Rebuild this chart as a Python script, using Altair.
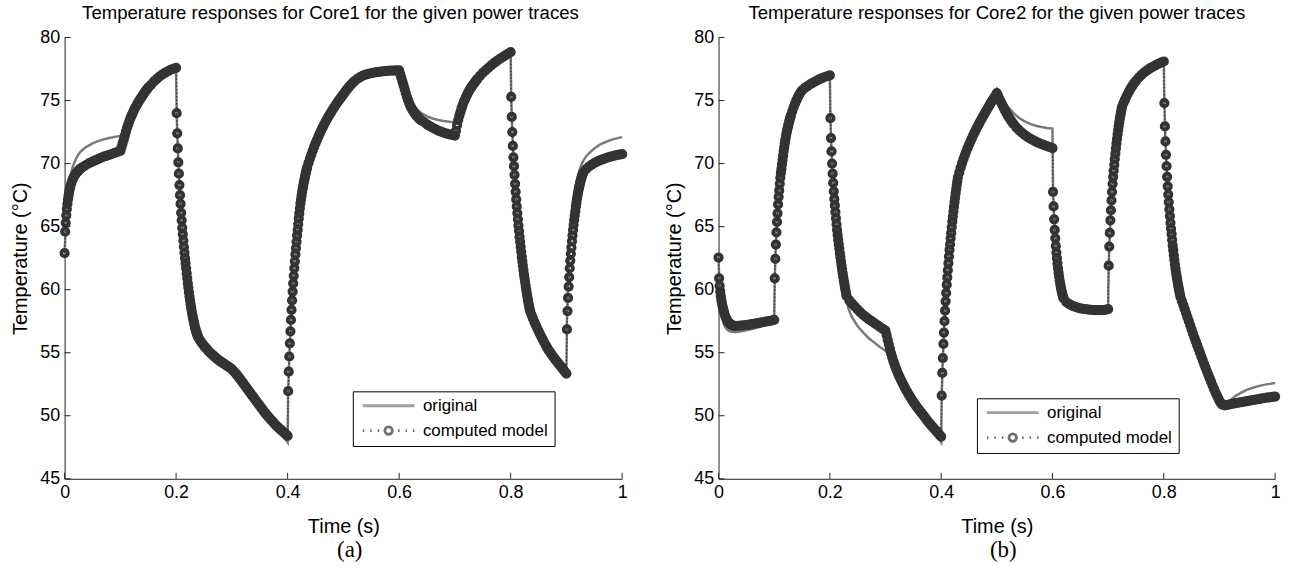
import altair as alt
import pandas as pd

XTICKS = [0, 0.2, 0.4, 0.6, 0.8, 1]
YTICKS = [45, 50, 55, 60, 65, 70, 75, 80]
SERIES = ["original", "computed model"]
COLORS = ["#7a7a7a", "#333333"]

# computed model, Core1: (start time, sample step, read temperatures)
CORE1_COMPUTED = [
    (0.000, 0.001, [62.9, 64.6, 65.3, 65.9, 66.4, 66.8, 67.15, 67.45, 67.7, 67.95, 68.15]),
    (0.012, 0.002, [68.45, 68.7, 68.9, 69.05, 69.2, 69.3, 69.4, 69.5, 69.58, 69.65]),
    (0.035, 0.005, [69.8, 69.93, 70.05, 70.15, 70.25, 70.35, 70.45, 70.55, 70.62, 70.7, 70.78, 70.85, 70.92, 71.0]),
    (0.102, 0.002, [71.3, 71.6, 71.9, 72.2, 72.55, 72.85, 73.1, 73.35, 73.6, 73.8, 74.0, 74.2, 74.4, 74.55, 74.7,
                    74.85, 75.0, 75.14, 75.28, 75.42, 75.55, 75.68, 75.8, 75.91, 76.02]),
    (0.155, 0.005, [76.25, 76.5, 76.7, 76.9, 77.05, 77.2, 77.32, 77.43, 77.52, 77.6]),
    (0.201, 0.001, [74.0, 72.4, 71.2, 70.1, 69.2, 68.3, 67.5, 66.8, 66.1, 65.5, 64.9, 64.4, 63.9, 63.4, 62.95,
                    62.5, 62.1, 61.7, 61.3, 60.9, 60.5, 60.15, 59.8, 59.45, 59.15, 58.85, 58.55, 58.3, 58.05, 57.8,
                    57.6, 57.4, 57.2, 57.0, 56.85, 56.7, 56.56, 56.43, 56.31, 56.2]),
    (0.2425, 0.0025, [56.02, 55.85, 55.7, 55.55, 55.42, 55.3, 55.17, 55.05, 54.95, 54.85, 54.75, 54.65, 54.55,
                      54.45, 54.37, 54.3, 54.22, 54.15, 54.07, 54.0, 53.92, 53.85, 53.77, 53.7]),
    (0.3025, 0.0025, [53.58, 53.45, 53.33, 53.2, 53.05, 52.9, 52.75, 52.6, 52.45, 52.3, 52.15, 52.0, 51.85, 51.7,
                      51.55, 51.4, 51.25, 51.1, 50.95, 50.8, 50.65, 50.5, 50.35, 50.2, 50.07, 49.95, 49.82, 49.7,
                      49.57, 49.45, 49.32, 49.2, 49.1, 49.0, 48.9, 48.8, 48.7, 48.6, 48.5, 48.4]),
    (0.401, 0.001, [51.95, 53.5, 54.7, 55.75, 56.7, 57.6, 58.4, 59.15, 59.85, 60.5, 61.1, 61.7, 62.25, 62.8, 63.3,
                    63.8, 64.3, 64.75, 65.2, 65.65, 66.05, 66.45, 66.85, 67.15, 67.45, 67.75, 68.0, 68.25, 68.5,
                    68.72, 68.93, 69.13, 69.33, 69.52, 69.7]),
    (0.4375, 0.0025, [70.05, 70.4, 70.72, 71.03, 71.32, 71.6, 71.87, 72.13, 72.38, 72.62, 72.85, 73.07, 73.28, 73.48,
                      73.68, 73.87, 74.05, 74.23, 74.4, 74.57, 74.74, 74.9, 75.05, 75.2, 75.35, 75.5, 75.65, 75.8,
                      75.94, 76.08, 76.2, 76.33, 76.44, 76.55]),
    (0.525, 0.005, [76.72, 76.86, 76.97, 77.05, 77.12, 77.17, 77.21, 77.25, 77.28, 77.31, 77.33, 77.35, 77.37,
                    77.38, 77.39, 77.4]),
    (0.602, 0.002, [77.1, 76.8, 76.5, 76.2, 75.9, 75.6, 75.3, 75.05, 74.8, 74.6, 74.42, 74.26, 74.12, 73.99, 73.87,
                    73.76, 73.66, 73.57, 73.49, 73.42]),
    (0.645, 0.005, [73.28, 73.12, 72.98, 72.85, 72.73, 72.62, 72.53, 72.45, 72.38, 72.32, 72.27, 72.22]),
    (0.702, 0.002, [72.6, 73.05, 73.45, 73.8, 74.1, 74.4, 74.65, 74.9, 75.1, 75.3, 75.48, 75.65, 75.82, 75.97, 76.1,
                    76.23, 76.35, 76.47, 76.59, 76.7]),
    (0.745, 0.005, [76.95, 77.2, 77.4, 77.6, 77.8, 77.97, 78.13, 78.28, 78.42, 78.56, 78.7, 78.85]),
    (0.801, 0.001, [75.3, 73.7, 72.5, 71.4, 70.5, 69.8, 69.1, 68.4, 67.76, 67.16, 66.6, 66.08, 65.58, 65.1, 64.66,
                    64.2, 63.8, 63.4, 63.0, 62.6, 62.25, 61.9, 61.55, 61.2, 60.9, 60.6, 60.3, 60.0, 59.72, 59.45,
                    59.2, 58.95, 58.72, 58.5, 58.3]),
    (0.8375, 0.0025, [58.0, 57.72, 57.45, 57.2, 56.96, 56.73, 56.5, 56.28, 56.06, 55.85, 55.65, 55.45, 55.25,
                      55.08, 54.92, 54.77, 54.62, 54.47, 54.33, 54.19, 54.05, 53.91, 53.77, 53.63, 53.49, 53.35]),
    (0.901, 0.001, [56.85, 58.3, 59.35, 60.25, 61.0, 61.7, 62.3, 62.85, 63.35, 63.85, 64.3, 64.75, 65.15, 65.55,
                    65.9, 66.25, 66.6, 66.9, 67.2, 67.45, 67.7, 67.95, 68.15, 68.35, 68.55, 68.72, 68.88, 69.02,
                    69.15, 69.27]),
    (0.935, 0.005, [69.55, 69.75, 69.9, 70.03, 70.15, 70.25, 70.34, 70.42, 70.5, 70.56, 70.62, 70.67, 70.71, 70.75]),
]

CORE1_ORIG_T = [0, 0.005, 0.01, 0.015, 0.02, 0.025, 0.03, 0.035, 0.04, 0.05, 0.06, 0.07, 0.08, 0.09, 0.1,
                0.105, 0.11, 0.12, 0.13, 0.14, 0.15, 0.16, 0.17, 0.18, 0.19, 0.2,
                0.201, 0.203, 0.205, 0.207, 0.21, 0.213, 0.216, 0.22, 0.225, 0.23, 0.235, 0.24, 0.25, 0.26, 0.27,
                0.28, 0.29, 0.3,
                0.31, 0.32, 0.33, 0.34, 0.35, 0.36, 0.37, 0.38, 0.39, 0.4,
                0.401, 0.403, 0.405, 0.407, 0.41, 0.413, 0.416, 0.42, 0.425, 0.43, 0.435, 0.44, 0.45, 0.46, 0.47,
                0.48, 0.49, 0.5, 0.51, 0.52, 0.53, 0.54, 0.55, 0.56, 0.57, 0.58, 0.59, 0.6,
                0.602, 0.606, 0.61, 0.615, 0.62, 0.625, 0.63, 0.64, 0.65, 0.66, 0.67, 0.68, 0.69, 0.7,
                0.705, 0.71, 0.715, 0.72, 0.73, 0.74, 0.75, 0.76, 0.77, 0.78, 0.79, 0.8,
                0.801, 0.803, 0.805, 0.807, 0.81, 0.813, 0.816, 0.82, 0.825, 0.83, 0.835, 0.84, 0.85, 0.86, 0.87,
                0.88, 0.89, 0.9,
                0.901, 0.903, 0.905, 0.907, 0.91, 0.913, 0.916, 0.92, 0.925, 0.93, 0.935, 0.94, 0.95, 0.96, 0.97,
                0.98, 0.99, 1.0]
CORE1_ORIG_V = [62.9, 67.6, 69.0, 69.8, 70.35, 70.75, 71.0, 71.2, 71.35, 71.6, 71.78, 71.92, 72.03, 72.12, 72.2,
                72.6, 73.0, 73.85, 74.7, 75.45, 76.0, 76.5, 76.9, 77.2, 77.43, 77.6,
                74.0, 71.2, 69.2, 67.5, 65.5, 63.9, 62.5, 60.9, 59.15, 57.8, 56.85, 56.2, 55.55, 55.05, 54.65,
                54.3, 54.0, 53.7,
                53.15, 52.55, 51.95, 51.35, 50.75, 50.15, 49.6, 49.05, 48.5, 47.9,
                51.9, 54.7, 56.7, 58.4, 60.5, 62.25, 63.8, 65.65, 67.45, 68.72, 69.7, 70.4, 71.6, 72.62, 73.48,
                74.23, 74.9, 75.5, 76.08, 76.55, 76.86, 77.05, 77.17, 77.25, 77.31, 77.35, 77.38, 77.4,
                77.1, 76.5, 75.95, 75.35, 74.95, 74.62, 74.38, 74.0, 73.75, 73.58, 73.46, 73.38, 73.32, 73.28,
                73.9, 74.4, 74.85, 75.3, 76.1, 76.7, 77.2, 77.6, 77.97, 78.28, 78.56, 78.85,
                75.3, 72.5, 70.5, 69.1, 67.16, 65.58, 64.2, 62.6, 60.9, 59.45, 58.3, 57.45, 56.5, 55.65, 54.9,
                54.3, 53.9, 53.6,
                57.5, 60.5, 62.5, 64.0, 65.7, 67.0, 68.1, 68.9, 69.7, 70.2, 70.55, 70.8, 71.2, 71.5, 71.7,
                71.88, 72.0, 72.1]

# computed model, Core2
CORE2_COMPUTED = [
    (0.000, 0.001, [62.55, 60.9, 60.3, 59.85, 59.5, 59.2, 58.95, 58.72, 58.52, 58.35, 58.2]),
    (0.012, 0.002, [57.92, 57.7, 57.52, 57.4, 57.3, 57.23, 57.18, 57.15, 57.13, 57.12]),
    (0.035, 0.005, [57.13, 57.15, 57.17, 57.2, 57.23, 57.27, 57.31, 57.35, 57.39, 57.43, 57.47, 57.51, 57.55, 57.6]),
    (0.101, 0.001, [60.9, 62.45, 63.58, 64.55, 65.37, 66.05, 66.76, 67.37, 67.87, 68.4, 68.87, 69.26, 69.6, 69.95,
                    70.3, 70.65, 71.0, 71.3, 71.6, 71.9, 72.15, 72.4, 72.6, 72.8, 73.0, 73.18, 73.35, 73.52,
                    73.68, 73.83]),
    (0.1325, 0.0025, [74.17, 74.48, 74.77, 75.03, 75.27, 75.48, 75.67]),
    (0.150, 0.005, [75.8, 76.0, 76.15, 76.3, 76.43, 76.55, 76.66, 76.76, 76.85, 76.93, 77.0]),
    (0.201, 0.001, [73.6, 72.03, 70.97, 70.0, 69.2, 68.47, 67.8, 67.2, 66.68, 66.16, 65.66, 65.18, 64.74, 64.34,
                    63.95, 63.6, 63.25, 62.9, 62.58, 62.25, 61.93, 61.62, 61.32, 61.03, 60.75, 60.48, 60.22,
                    59.97, 59.73, 59.5]),
    (0.235, 0.005, [59.15, 58.9, 58.65, 58.42, 58.2, 58.0, 57.82, 57.65, 57.5, 57.35, 57.2, 57.05, 56.9, 56.75]),
    (0.302, 0.002, [56.4, 56.0, 55.65, 55.3, 54.95, 54.65, 54.35, 54.1, 53.85, 53.62]),
    (0.3225, 0.0025, [53.35, 53.1, 52.87, 52.65, 52.43, 52.22, 52.02, 51.82, 51.63, 51.45, 51.27, 51.1, 50.94,
                      50.78, 50.63, 50.48, 50.34, 50.2, 50.06, 49.93, 49.77, 49.62, 49.48, 49.35, 49.22, 49.1,
                      48.97, 48.85, 48.72, 48.6, 48.47, 48.35]),
    (0.401, 0.001, [51.6, 53.4, 54.58, 55.7, 56.6, 57.5, 58.34, 59.08, 59.74, 60.4, 60.97, 61.55, 62.1, 62.63,
                    63.16, 63.6, 64.08, 64.5, 64.97, 65.4, 65.8, 66.2, 66.58, 66.95, 67.3, 67.65, 67.98, 68.3,
                    68.6, 68.9]),
    (0.4325, 0.0025, [69.3, 69.68, 70.03, 70.36, 70.67, 70.96, 71.24, 71.5, 71.75, 72.0, 72.24, 72.47, 72.7,
                      72.92, 73.13, 73.33, 73.53, 73.73, 73.93, 74.12, 74.31, 74.5, 74.69, 74.87, 75.05, 75.22,
                      75.4, 75.6]),
    (0.5025, 0.0025, [75.35, 75.1, 74.87, 74.65, 74.42, 74.2, 74.0, 73.8, 73.62, 73.45, 73.3, 73.15]),
    (0.535, 0.005, [72.88, 72.65, 72.45, 72.28, 72.12, 71.98, 71.86, 71.75, 71.65, 71.55, 71.46, 71.38, 71.3,
                    71.22]),
    (0.601, 0.001, [67.76, 66.6, 65.58, 64.74, 64.08, 63.47, 62.95, 62.5, 62.08, 61.7, 61.35, 61.02, 60.72, 60.45,
                    60.2, 59.98, 59.78, 59.6, 59.44, 59.3]),
    (0.625, 0.005, [59.02, 58.85, 58.73, 58.65, 58.58, 58.52, 58.48, 58.45, 58.42, 58.4, 58.38, 58.37, 58.37,
                    58.38, 58.4, 58.45]),
    (0.701, 0.001, [61.9, 63.42, 64.5, 65.5, 66.3, 67.08, 67.76, 68.4, 68.95, 69.45, 69.9, 70.37, 70.8, 71.2,
                    71.6, 71.97, 72.32, 72.65, 72.97, 73.27, 73.55, 73.82, 74.07, 74.3, 74.52]),
    (0.7275, 0.0025, [74.8, 75.05, 75.3, 75.52, 75.73, 75.92, 76.1, 76.27, 76.42]),
    (0.750, 0.005, [76.56, 76.82, 77.04, 77.23, 77.4, 77.55, 77.68, 77.8, 77.91, 78.01, 78.1]),
    (0.801, 0.001, [74.8, 72.95, 71.76, 70.7, 69.8, 68.95, 68.2, 67.55, 66.95, 66.37, 65.84, 65.3, 64.84, 64.4,
                    63.95, 63.5, 63.13, 62.74, 62.37, 62.0, 61.68, 61.38, 61.1, 60.83, 60.57, 60.32, 60.08,
                    59.85, 59.63, 59.42]),
    (0.8325, 0.0025, [59.1, 58.8, 58.47, 58.15, 57.82, 57.5, 57.17, 56.85, 56.52, 56.2, 55.9, 55.6, 55.3, 55.0,
                      54.7, 54.4, 54.1, 53.82, 53.53, 53.25, 52.97, 52.7, 52.42, 52.15, 51.9, 51.65, 51.42,
                      51.2, 51.02, 50.88]),
    (0.910, 0.005, [50.82, 50.87, 50.92, 50.96, 51.0, 51.04, 51.08, 51.12, 51.16, 51.2, 51.24, 51.28, 51.32,
                    51.36, 51.4, 51.43, 51.46, 51.49, 51.52]),
]

CORE2_ORIG_T = [0, 0.002, 0.005, 0.01, 0.015, 0.02, 0.03, 0.04, 0.05, 0.06, 0.07, 0.08, 0.09, 0.1,
                0.101, 0.103, 0.105, 0.107, 0.11, 0.113, 0.116, 0.12, 0.125, 0.13, 0.14, 0.15, 0.16, 0.17,
                0.18, 0.19, 0.2,
                0.201, 0.203, 0.205, 0.207, 0.21, 0.213, 0.216, 0.22, 0.225, 0.23, 0.235, 0.24, 0.25, 0.26,
                0.27, 0.28, 0.29, 0.3,
                0.31, 0.32, 0.33, 0.34, 0.35, 0.36, 0.37, 0.38, 0.39, 0.4,
                0.401, 0.403, 0.405, 0.407, 0.41, 0.413, 0.416, 0.42, 0.425, 0.43, 0.435, 0.44, 0.45, 0.46,
                0.47, 0.48, 0.49, 0.5,
                0.505, 0.51, 0.515, 0.52, 0.53, 0.54, 0.55, 0.56, 0.57, 0.58, 0.59, 0.6,
                0.601, 0.603, 0.605, 0.607, 0.61, 0.613, 0.616, 0.62, 0.625, 0.63, 0.64, 0.65, 0.66, 0.67,
                0.68, 0.69, 0.7,
                0.701, 0.703, 0.705, 0.707, 0.71, 0.713, 0.716, 0.72, 0.725, 0.73, 0.74, 0.75, 0.76, 0.77,
                0.78, 0.79, 0.8,
                0.801, 0.803, 0.805, 0.807, 0.81, 0.813, 0.816, 0.82, 0.825, 0.83, 0.84, 0.85, 0.86, 0.87,
                0.88, 0.89, 0.9, 0.905, 0.91, 0.92, 0.93, 0.94, 0.95, 0.96, 0.97, 0.98, 0.99, 1.0]
CORE2_ORIG_V = [62.55, 59.8, 58.2, 57.2, 56.85, 56.7, 56.62, 56.7, 56.78, 56.88, 57.0, 57.13, 57.3, 57.5,
                60.9, 63.6, 65.4, 66.8, 68.4, 69.6, 70.65, 71.9, 73.0, 73.85, 74.8, 75.5, 76.05, 76.43,
                76.66, 76.85, 77.0,
                73.6, 71.0, 69.2, 67.8, 66.16, 64.74, 63.6, 62.2, 60.3, 59.0, 58.3, 57.8, 57.1, 56.6,
                56.15, 55.8, 55.45, 55.15,
                54.55, 53.75, 52.85, 51.95, 51.2, 50.5, 49.9, 49.3, 48.65, 47.9,
                51.6, 54.6, 56.6, 58.3, 60.4, 62.1, 63.6, 65.4, 67.3, 68.9, 70.0, 70.6, 71.8, 72.8,
                73.7, 74.5, 75.25, 75.95,
                75.55, 75.15, 74.8, 74.5, 74.0, 73.62, 73.35, 73.15, 73.0, 72.9, 72.83, 72.78,
                67.8, 65.6, 64.1, 62.95, 61.7, 60.7, 60.0, 59.3, 59.0, 58.85, 58.65, 58.52, 58.45, 58.4,
                58.37, 58.38, 58.45,
                61.9, 64.5, 66.3, 67.8, 69.45, 70.8, 71.97, 73.27, 74.52, 75.3, 76.1, 76.56, 77.04, 77.4,
                77.7, 77.98, 78.2,
                74.8, 71.76, 69.8, 68.2, 66.37, 64.84, 63.5, 62.0, 60.57, 59.42, 58.15, 56.85, 55.6, 54.4,
                53.25, 52.15, 51.2, 50.9, 50.98, 51.25, 51.6, 51.85, 52.08, 52.22, 52.35, 52.45, 52.53, 52.6]

FONT = "Liberation Sans"
H = 444
PATH_LINE = "M-5.2,0L5.2,0"
PATH_DOT = ("M-5.2,0h0.3M-3.7,0h0.3M-2.2,0h0.3M1.9,0h0.3M3.4,0h0.3M4.9,0h0.3"
            "M0.75,0A0.75,0.75,0,1,1,-0.75,0A0.75,0.75,0,1,1,0.75,0Z")


def expand(segs):
    rows = []
    for t0, dt, vals in segs:
        for i, v in enumerate(vals):
            rows.append({"t": round(t0 + i * dt, 5), "T": v})
    return pd.DataFrame(rows)


def panel(title, comp_segs, orig_t, orig_v, w, lx, ly, tdx):
    comp = expand(comp_segs)
    orig = pd.DataFrame({"t": orig_t, "T": orig_v})
    xenc = alt.X("t:Q", scale=alt.Scale(domain=[0, 1], nice=False, zero=False),
                 axis=alt.Axis(values=XTICKS, format="~g", title="Time (s)", labelFlush=False,
                               titlePadding=15))
    yenc = alt.Y("T:Q", scale=alt.Scale(domain=[45, 80], nice=False, zero=False),
                 axis=alt.Axis(values=YTICKS, title="Temperature (°C)", titlePadding=9))
    orig_line = alt.Chart(orig).mark_line(color=COLORS[0], strokeWidth=2.5, clip=False).encode(x=xenc, y=yenc)
    comp_line = alt.Chart(comp).mark_line(color=COLORS[1], strokeWidth=1.2, strokeDash=[1.5, 2],
                                          clip=False).encode(x="t:Q", y="T:Q")
    comp_pts = alt.Chart(comp).mark_point(shape="circle", filled=False, size=42, strokeWidth=3.8,
                                          color=COLORS[1], opacity=1, clip=False).encode(x="t:Q", y="T:Q")
    xt = alt.Chart(pd.DataFrame({"t": XTICKS})).mark_rule(color="#222222", strokeWidth=1).encode(
        x="t:Q", y=alt.value(H), y2=alt.value(H - 6))
    yt = alt.Chart(pd.DataFrame({"T": YTICKS})).mark_rule(color="#222222", strokeWidth=1).encode(
        y="T:Q", x=alt.value(0), x2=alt.value(6))
    leg = alt.Legend(title=None, orient="none", legendX=lx, legendY=ly, strokeColor="black",
                     fillColor="white", padding=6, symbolSize=100, symbolStrokeWidth=2.8,
                     symbolOffset=21.5, labelOffset=26, labelFont=FONT, labelFontSize=17,
                     labelColor="black", rowPadding=7, cornerRadius=0)
    leg_df = pd.DataFrame({"series": SERIES, "t": [None, None], "T": [None, None]})
    dummy = alt.Chart(leg_df).transform_filter("isValid(datum.t)").mark_point(
        filled=False, size=100, strokeWidth=2.8).encode(
        x="t:Q", y="T:Q",
        shape=alt.Shape("series:N", scale=alt.Scale(domain=SERIES, range=[PATH_LINE, PATH_DOT]), legend=leg),
        color=alt.Color("series:N", scale=alt.Scale(domain=SERIES, range=COLORS), legend=leg))
    return alt.layer(orig_line, comp_line, comp_pts, xt, yt, dummy).properties(
        width=w, height=H,
        title=alt.TitleParams(title, font=FONT, fontSize=18.7, fontWeight="normal", color="black",
                              anchor="middle", offset=6, dx=tdx))


def captioned(chart, cap, dx):
    return alt.hconcat(chart).properties(
        title=alt.TitleParams(cap, orient="bottom", font="Liberation Serif", fontSize=23,
                              fontWeight="normal", color="black", anchor="middle", offset=3, dx=dx))


left = captioned(panel("Temperature responses for Core1 for the given power traces", CORE1_COMPUTED,
                       CORE1_ORIG_T, CORE1_ORIG_V, 561, 290, 356, -13), "(a)", 28)
right = captioned(panel("Temperature responses for Core2 for the given power traces", CORE2_COMPUTED,
                        CORE2_ORIG_T, CORE2_ORIG_V, 560, 260, 363, 0), "(b)", 28)

chart = alt.hconcat(left, right, spacing=31).resolve_scale(
    color="independent", shape="independent"
).resolve_legend(color="independent", shape="independent").properties(
    padding={"left": 10, "top": 2, "right": 5, "bottom": 5}, background="white"
).configure_view(stroke=None).configure_axis(
    domainColor="#222222", domainWidth=1, ticks=False, grid=False,
    labelFont=FONT, labelFontSize=18, labelColor="black", labelPadding=5,
    titleFont=FONT, titleFontSize=20, titleFontWeight="normal", titleColor="black"
).configure_concat(spacing=31)

chart.save("out.html", embed_options={"renderer": "svg", "actions": False})
